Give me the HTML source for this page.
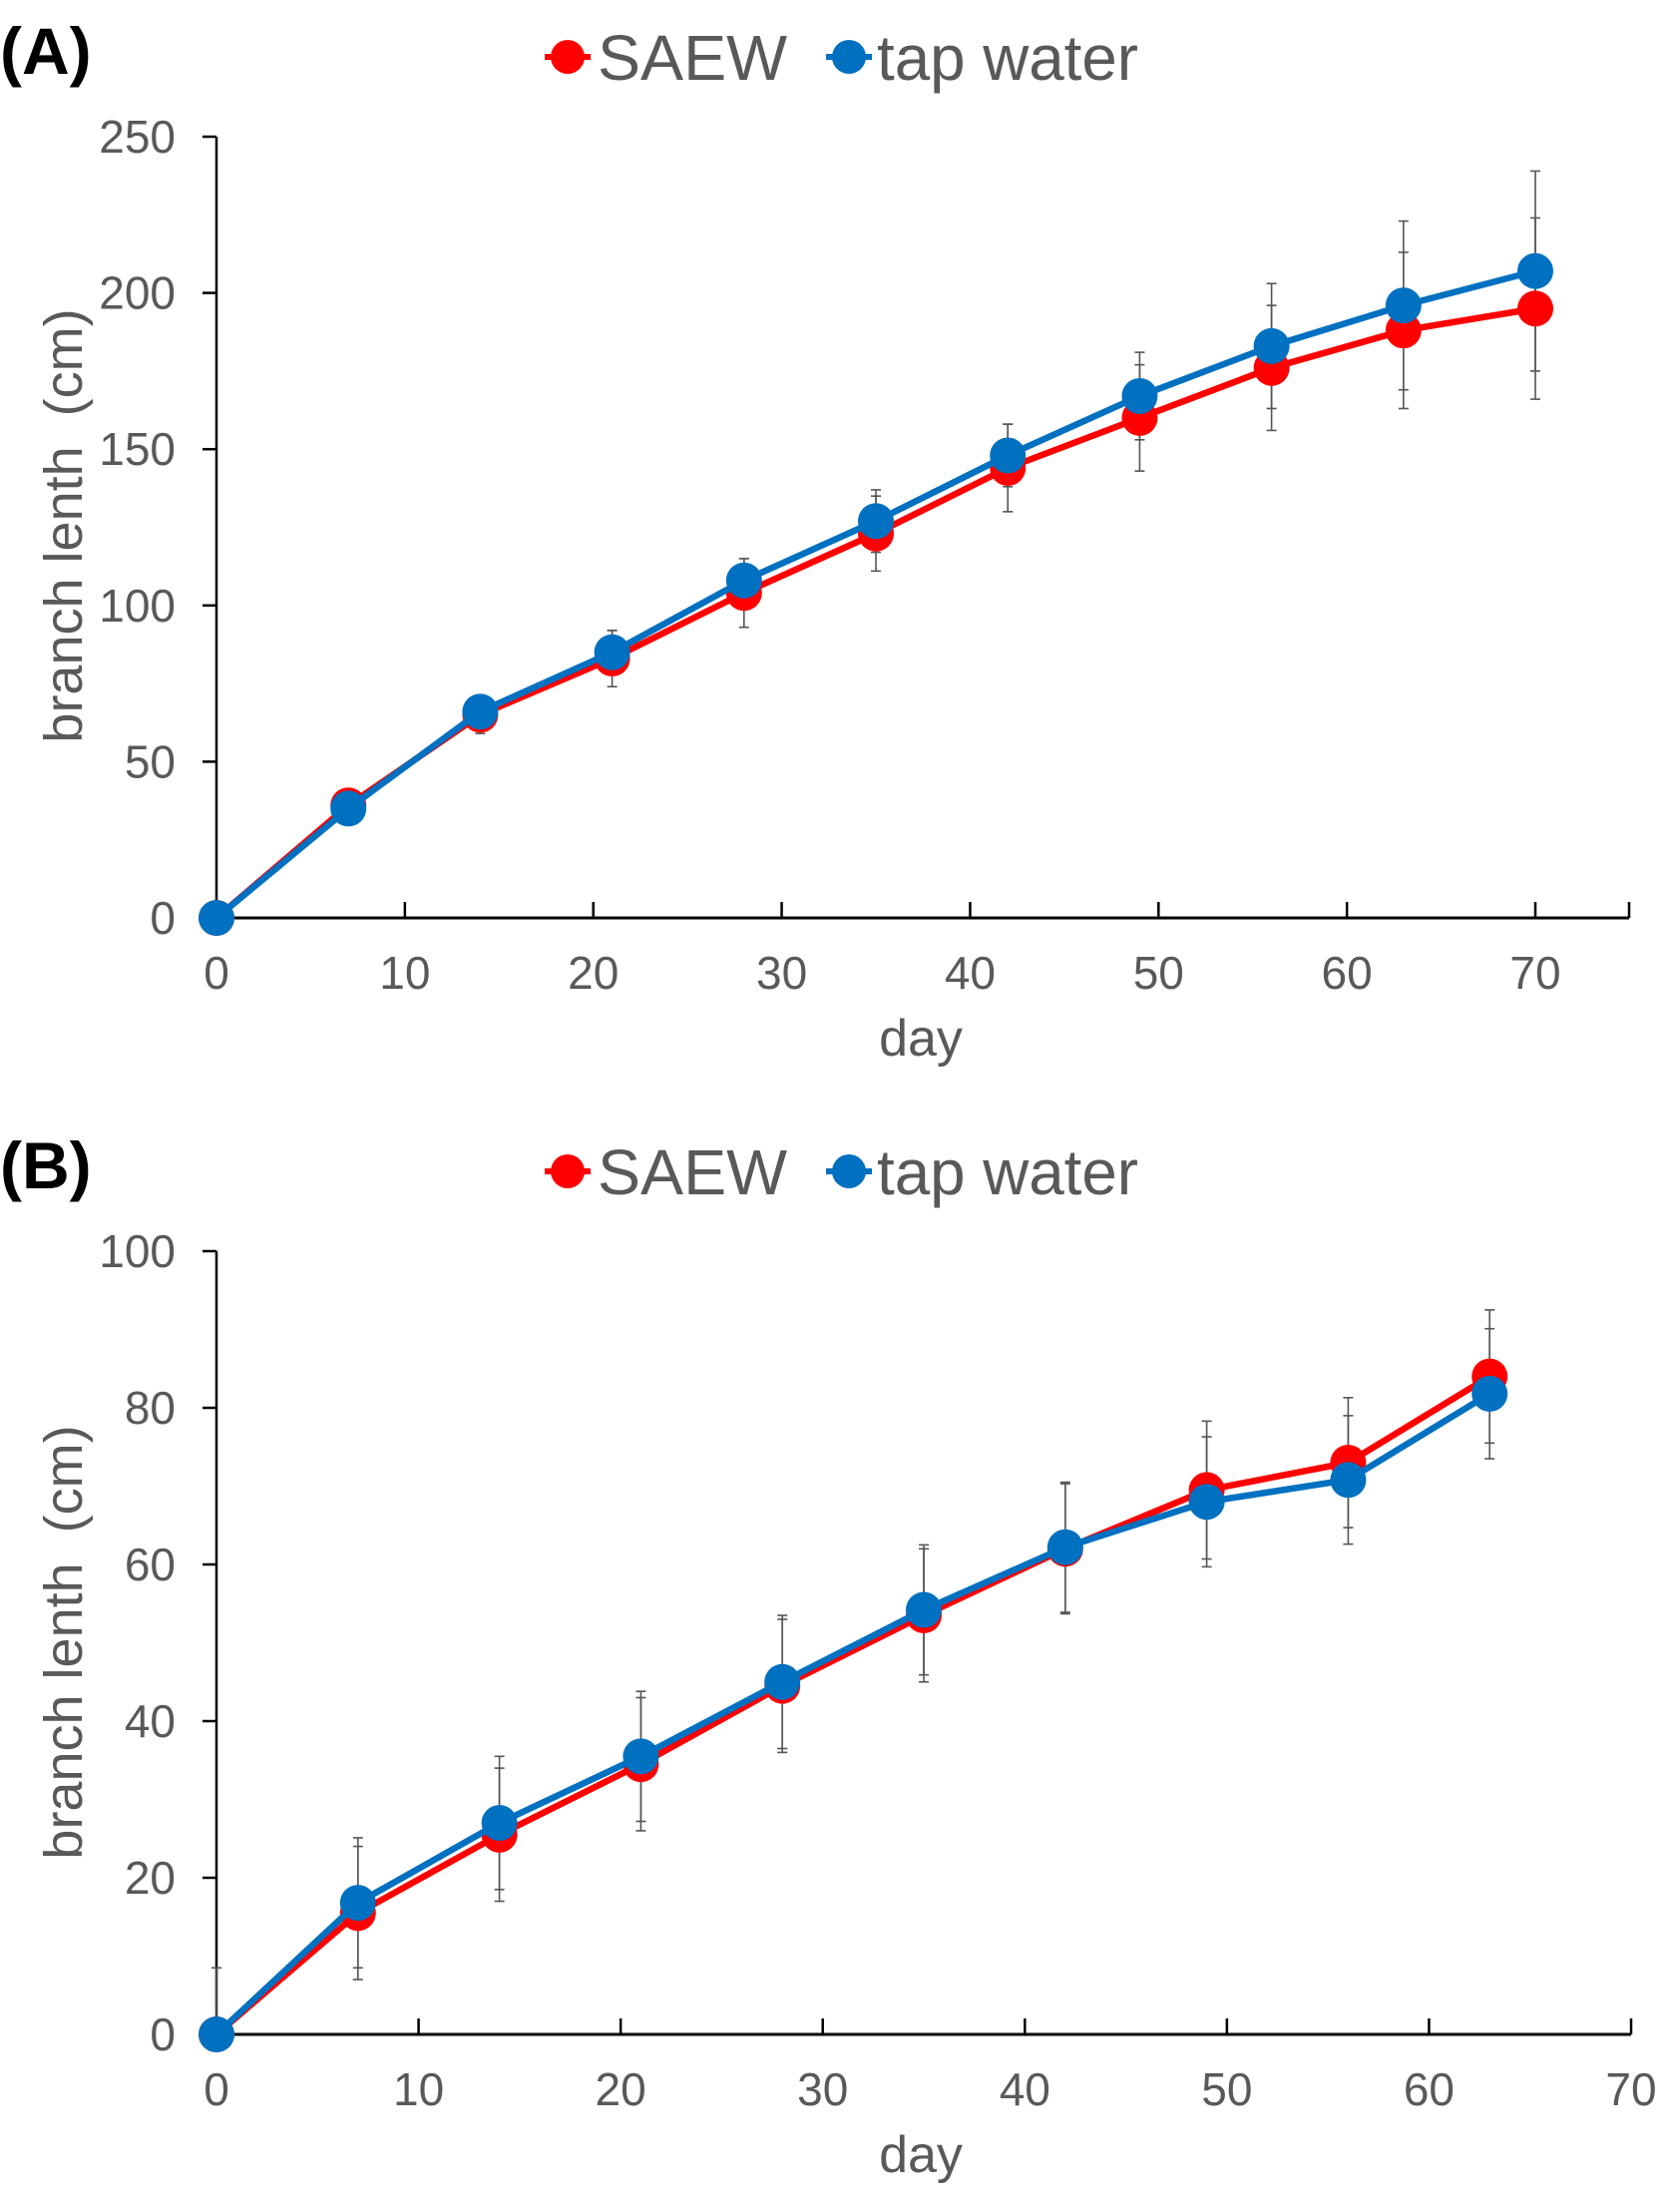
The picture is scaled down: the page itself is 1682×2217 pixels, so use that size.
<!DOCTYPE html>
<html><head><meta charset="utf-8"><style>
html,body{margin:0;padding:0;background:#fff;}
svg{display:block;font-family:"Liberation Sans",Arial,sans-serif;}
</style></head><body>
<svg id="fig" width="1682" height="2217" viewBox="0 0 1682 2217"></svg>
<script>
const daysA = [0,7,14,21,28,35,42,49,56,63,70];
const saewA = [0,36,65,83,104,123,144,160,176,188,195];
const tapA = [0,35,66,85,108,127,148,167,183,196,207];
const saewErrA = [0,5,6,9,11,12,14,17,20,25,29];
const tapErrA = [0,4,5,7,7,10,10,14,20,27,32];
const yTicksA = [0,50,100,150,200,250];
const xTicks = [0,10,20,30,40,50,60,70];

const daysB = [0,7,14,21,28,35,42,49,56,63];
const saewB = [0,15.5,25.5,34.5,44.5,53.5,62,69.5,73,84];
const tapB = [0,16.8,27,35.5,45,54.2,62.2,68,70.8,81.8];
const saewErrB = [0,8.5,8.5,8.5,8.5,8.5,8.3,8.8,8.3,8.5];
const tapErrB = [8.5,8.3,8.5,8.3,8.5,8.3,8.3,8.3,8.2,8.3];
const yTicksB = [0,20,40,60,80,100];

const NS = "http://www.w3.org/2000/svg";
const svg = document.getElementById('fig');
function mk(tag, attrs, parent, text){
  const e = document.createElementNS(NS, tag);
  for (const k in attrs) e.setAttribute(k, attrs[k]);
  if (text !== undefined) e.textContent = text;
  (parent || svg).appendChild(e);
  return e;
}

function panel(cfg){
  const g = mk('g', {});
  
  
  const xS = v => cfg.x0 + (v - 0) / 70 * (cfg.x70 - cfg.x0);
  const yS = v => cfg.yb - v / cfg.ymax * (cfg.yb - cfg.yt);

  const lab = mk('text', {x: 0, y: cfg.labY, 'font-size': 66, 'font-weight': 'bold', fill: '#000'}, g, cfg.label);
  
  

  const lg = mk('g', {}, g);
  
  
  const ly = cfg.legY;
  const e1 = mk('g', {}, lg);
  
  
  mk('line', {x1: 546, y1: ly, x2: 592, y2: ly, stroke: '#ff0000', 'stroke-width': 6}, e1);
  mk('circle', {cx: 569, cy: ly, r: 17, fill: '#ff0000'}, e1);
  mk('text', {x: 599, y: ly + 23, 'font-size': 64, fill: '#595959', textLength: 190, lengthAdjust: 'spacingAndGlyphs'}, e1, 'SAEW');
  const e2 = mk('g', {}, lg);
  
  
  mk('line', {x1: 828, y1: ly, x2: 874, y2: ly, stroke: '#0070c0', 'stroke-width': 6}, e2);
  mk('circle', {cx: 851, cy: ly, r: 17, fill: '#0070c0'}, e2);
  mk('text', {x: 879, y: ly + 23, 'font-size': 64, fill: '#595959', textLength: 262, lengthAdjust: 'spacingAndGlyphs'}, e2, 'tap water');

  const ya = mk('line', {x1: cfg.x0, y1: cfg.yt, x2: cfg.x0, y2: cfg.yb, stroke: '#000', 'stroke-width': 2.5}, g);
  
  
  const xa = mk('line', {x1: cfg.x0, y1: cfg.yb, x2: cfg.xend, y2: cfg.yb, stroke: '#000', 'stroke-width': 3}, g);
  
  

  cfg.yTicks.forEach(t => {
    const y = yS(t);
    mk('line', {x1: cfg.x0 - 14, y1: y, x2: cfg.x0, y2: y, stroke: '#000', 'stroke-width': 2.5}, g);
    const tl = mk('text', {x: 176, y: y + 16, 'font-size': 46, fill: '#595959', 'text-anchor': 'end'}, g, String(t));
    
    
  });
  xTicks.forEach(t => {
    const x = xS(t);
    if (t > 0) mk('line', {x1: x, y1: cfg.yb - 16, x2: x, y2: cfg.yb, stroke: '#000', 'stroke-width': 2.5}, g);
    const tl = mk('text', {x: x, y: cfg.xLabY, 'font-size': 46, fill: '#595959', 'text-anchor': 'middle'}, g, String(t));
    
    
  });
  if (cfg.xend > xS(70) + 5) mk('line', {x1: cfg.xend, y1: cfg.yb - 16, x2: cfg.xend, y2: cfg.yb, stroke: '#000', 'stroke-width': 2.5}, g);

  const xt = mk('text', {x: 923, y: cfg.dayY, 'font-size': 52, fill: '#595959', 'text-anchor': 'middle'}, g, 'day');
  
  
  const yt = mk('text', {x: 0, y: 0, 'font-size': 54, fill: '#595959', 'text-anchor': 'middle', transform: `translate(82,${cfg.ytitleY}) rotate(-90)`}, g, 'branch lenth\u00a0\u00a0(cm)');
  
  

  const series = [
    {name: 'saew', vals: cfg.saew, errs: cfg.saewErr, color: '#ff0000'},
    {name: 'tap-water', vals: cfg.tap, errs: cfg.tapErr, color: '#0070c0'}
  ];
  series.forEach(s => {
    s.vals.forEach((v, i) => {
      const x = xS(cfg.days[i]);
      const e = s.errs[i];
      if (e <= 0) return;
      const lo = Math.max(0, v - e);
      const eb = mk('g', {stroke: '#555', 'stroke-width': 1.6}, g);
      
      
      mk('line', {x1: x, y1: yS(lo), x2: x, y2: yS(v + e)}, eb);
      if (v - e > 0) mk('line', {x1: x - 5, y1: yS(lo), x2: x + 5, y2: yS(lo)}, eb);
      mk('line', {x1: x - 5, y1: yS(v + e), x2: x + 5, y2: yS(v + e)}, eb);
    });
  });
  series.forEach(s => {
    const pts = s.vals.map((v, i) => xS(cfg.days[i]) + ',' + yS(v)).join(' ');
    const pl = mk('polyline', {points: pts, fill: 'none', stroke: s.color, 'stroke-width': 6.5, 'stroke-linejoin': 'round'}, g);
    
    
    s.vals.forEach((v, i) => {
      const c = mk('circle', {cx: xS(cfg.days[i]), cy: yS(v), r: 18, fill: s.color}, g);
      
      
    });
  });
}

panel({name: 'chart-a', label: '(A)', labY: 74, legY: 57, x0: 217, x70: 1539, xend: 1633, yt: 137, yb: 920, ymax: 250,
  yTicks: yTicksA, xLabY: 991, dayY: 1058, ytitleY: 527,
  days: daysA, saew: saewA, tap: tapA, saewErr: saewErrA, tapErr: tapErrA});
panel({name: 'chart-b', label: '(B)', labY: 1191, legY: 1174, x0: 217, x70: 1635, xend: 1635, yt: 1254, yb: 2039, ymax: 100,
  yTicks: yTicksB, xLabY: 2110, dayY: 2177, ytitleY: 1646,
  days: daysB, saew: saewB, tap: tapB, saewErr: saewErrB, tapErr: tapErrB});
</script>
</body></html>
